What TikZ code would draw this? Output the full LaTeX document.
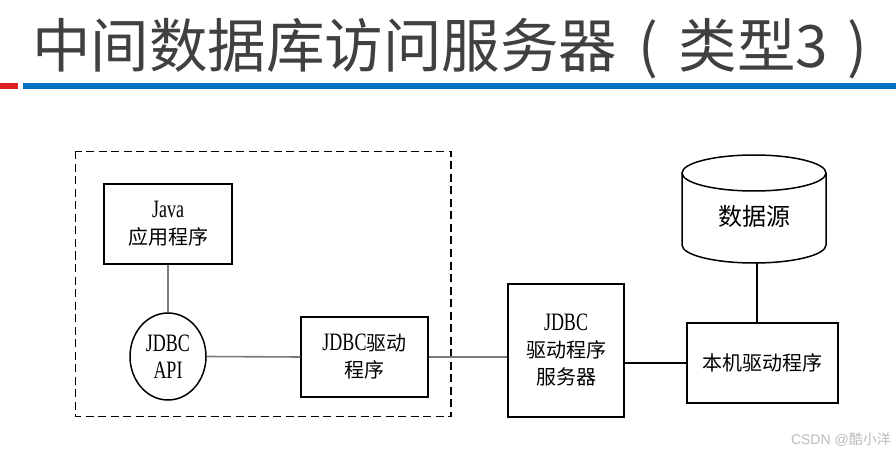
\documentclass[tikz,border=0pt]{standalone}
\usepackage{fontspec}
\usetikzlibrary{shapes.geometric}
\setmainfont{Liberation Serif}
\newfontfamily\cjk{Noto Sans CJK SC}
\newfontfamily\lat[FakeStretch=0.72]{Liberation Serif}
\definecolor{titlegray}{HTML}{404040}
\definecolor{barred}{HTML}{E02020}
\definecolor{barblue}{HTML}{0070C0}
\definecolor{linegray}{HTML}{7A7A7A}
\definecolor{wmgray}{HTML}{BBBBBB}
\newcommand{\La}[1]{{\lat\fontsize{25}{27}\selectfont #1}}
\newcommand{\Ch}[1]{{\cjk\fontsize{20}{27}\selectfont #1}}
\begin{document}
\begin{tikzpicture}[x=1pt,y=-1pt,
  box/.style={draw=black,line width=1.5pt,inner sep=0pt,align=center,font=\fontsize{20}{27}\selectfont},
  conn/.style={line width=1.5pt},
  gconn/.style={line width=1.6pt,draw=linegray}]
\useasboundingbox (0,0) rectangle (896,454);
\fill[white] (0,0) rectangle (896,454);
% title
\node[anchor=base west,inner sep=0pt,text=titlegray,font=\cjk\fontsize{58.5}{60}\selectfont] (title) at (32,67.5) {中间数据库访问服务器\makebox[1.05em]{(}类型3\makebox[1em]{)}};
\fill[barred] (0,83.5) rectangle (18,89);
\fill[barblue] (23,83.5) rectangle (896,89);
% dashed frame
\draw[line width=1.4pt,dash pattern=on 8pt off 4.5pt] (75.5,151.5) rectangle (451,416.5);
% nodes
\node[box,minimum width=128,minimum height=80] (java) at (168,224) {\La{Java}\\\Ch{应用程序}};
\node[box,ellipse,minimum width=76,minimum height=87] (api) at (168,356.5) {\La{JDBC}\\\La{API}};
\node[box,minimum width=127,minimum height=80] (drv) at (364.5,357) {\La{JDBC}\Ch{驱动}\\\Ch{程序}};
\node[box,minimum width=116,minimum height=133] (srv) at (566,350.5) {\La{JDBC}\\\Ch{驱动程序}\\\Ch{服务器}};
\node[box,minimum width=151,minimum height=80] (loc) at (762.5,363) {\Ch{本机驱动程序}};
% cylinder
\draw[line width=1.5pt,fill=white] (682,173) -- (682,245) arc[start angle=180,end angle=0,x radius=72,y radius=18] -- (826,173);
\draw[line width=1.5pt] (754,173) ellipse[x radius=72,y radius=18];
\node[inner sep=0pt,font=\cjk\fontsize{24}{28}\selectfont] (ds) at (754,216) {数据源};
\coordinate (dsb) at (757,263);
% connectors
\draw[gconn] (java.south) -- (api.north);
\draw[gconn] (api.east) -- (drv.west);
\draw[gconn] (drv.east) -- (srv.west |- drv.east);
\draw[conn] (srv.east |- loc.west) -- (loc.west);
\draw[conn] (dsb) -- (dsb |- loc.north);
% watermark
\node[anchor=base east,inner sep=0pt,text=wmgray,font=\fontsize{14}{16}\selectfont] (wm) at (891,444) {\fontspec{Liberation Sans}CSDN @{\cjk 酷小洋}};
\end{tikzpicture}
\end{document}
